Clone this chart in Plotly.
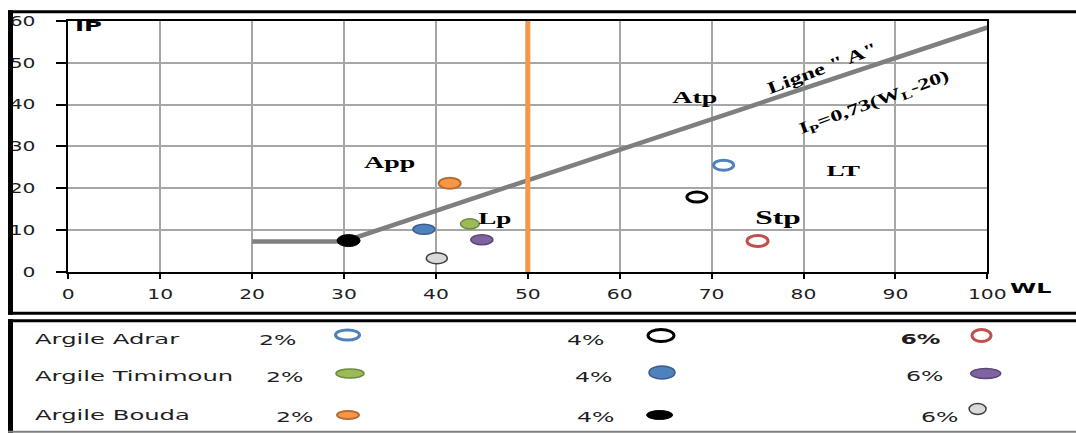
import json
import plotly.graph_objects as go

# ---------------------------------------------------------------- data
clays = ["Argile Adrar", "Argile Timimoun", "Argile Bouda"]
doses = ["2%", "4%", "6%"]

adrar_wl = [71.3, 68.4, 75.0]
adrar_ip = [25.5, 17.9, 7.4]
timimoun_wl = [43.7, 38.7, 45.0]
timimoun_ip = [11.5, 10.2, 7.7]
bouda_wl = [41.5, 30.5, 40.1]
bouda_ip = [21.2, 7.5, 3.3]

zone_labels = ["App", "Atp", "Lp", "LT", "Stp"]
zone_wl = [35.0, 68.2, 46.4, 84.4, 77.2]
zone_ip = [26.1, 41.5, 12.7, 24.2, 13.0]

x_ticks = [0, 10, 20, 30, 40, 50, 60, 70, 80, 90, 100]
y_ticks = [0, 10, 20, 30, 40, 50, 60]

# Casagrande "A" line: IP = 0.73 (WL - 20), with a flat lead-in below WL = 30
a_slope = 0.73
a_offset = 20
a_wl = [20, 30, 100]
wl_limit = 50

# ---------------------------------------------------------------- styles
W, H = 1076, 433


def px(x):
    return x / W


def py(y):
    return 1 - y / H


SANS = "DejaVu Sans"
SERIF = "Liberation Serif"
INK = "#1f1f1f"

series = {
    "Argile Adrar": (adrar_wl, adrar_ip),
    "Argile Timimoun": (timimoun_wl, timimoun_ip),
    "Argile Bouda": (bouda_wl, bouda_ip),
}

# fill, outline, outline width, marker width/height in px
marker_style = {
    ("Argile Adrar", "2%"): ("white", "#4F81BD", 3, 20, 10),
    ("Argile Adrar", "4%"): ("white", "#000000", 3, 20, 10),
    ("Argile Adrar", "6%"): ("white", "#C0504D", 3, 21, 11),
    ("Argile Timimoun", "2%"): ("#9BBB59", "#71893F", 1.5, 19, 10),
    ("Argile Timimoun", "4%"): ("#4F81BD", "#385D8A", 1.5, 22, 10),
    ("Argile Timimoun", "6%"): ("#8064A2", "#5C4776", 1.5, 22, 10),
    ("Argile Bouda", "2%"): ("#F79646", "#B66D31", 2, 22, 11),
    ("Argile Bouda", "4%"): ("#000000", "#000000", 1, 23, 12),
    ("Argile Bouda", "6%"): ("#D9D9D9", "#404040", 1.5, 21, 11),
}

# legend table layout (pixel positions)
legend_label_x = 33
legend_label_y = [339, 375.5, 415]
legend_pct_xy = [
    [(278, 340), (585.5, 340), (920, 339)],
    [(285, 376.5), (594, 376.5), (924.6, 376)],
    [(295, 416.5), (596, 416.5), (940, 416.5)],
]
legend_glyph_xy = [
    [(347.5, 335), (661, 335.5), (981.5, 335.5)],
    [(350, 373.5), (662, 372.5), (985.7, 373.5)],
    [(348, 415), (659.6, 415), (977.6, 409)],
]
legend_glyph_wh = [
    [(24, 10), (26, 12), (19, 12)],
    [(28, 9), (26, 13), (30, 10)],
    [(22, 8), (26, 9), (17, 11)],
]

fig = go.Figure()

# A line
a_ip = [a_slope * (max(w, 30) - a_offset) for w in a_wl]
fig.add_trace(go.Scatter(
    x=a_wl, y=a_ip, mode="lines",
    line=dict(color="#7F7F7F", width=4.5),
    hoverinfo="skip", showlegend=False,
))

# WL = 50 boundary
fig.add_trace(go.Scatter(
    x=[wl_limit, wl_limit], y=[y_ticks[0], y_ticks[-1]], mode="lines",
    line=dict(color="#F79646", width=5),
    hoverinfo="skip", showlegend=False,
))

shapes = []
# sample points as ellipses anchored to their data values
for clay in clays:
    wl, ip = series[clay]
    fig.add_trace(go.Scatter(
        x=wl, y=ip, mode="markers", name=clay, text=doses,
        marker=dict(size=12, opacity=0),
        hovertemplate="%{text}<br>WL=%{x}<br>IP=%{y}<extra>" + clay + "</extra>",
        showlegend=False,
    ))
    for dose, x, y in zip(doses, wl, ip):
        fill, edge, lw, mw, mh = marker_style[(clay, dose)]
        shapes.append(dict(
            type="circle", xref="x", yref="y",
            xsizemode="pixel", ysizemode="pixel",
            xanchor=x, yanchor=y,
            x0=-mw / 2, x1=mw / 2, y0=-mh / 2, y1=mh / 2,
            fillcolor=fill, line=dict(color=edge, width=lw), layer="above",
        ))

# legend table glyphs
for r, clay in enumerate(clays):
    for c, dose in enumerate(doses):
        fill, edge, lw, _, _ = marker_style[(clay, dose)]
        gx, gy = legend_glyph_xy[r][c]
        gw, gh = legend_glyph_wh[r][c]
        shapes.append(dict(
            type="circle", xref="paper", yref="paper",
            x0=px(gx - gw / 2), x1=px(gx + gw / 2),
            y0=py(gy + gh / 2), y1=py(gy - gh / 2),
            fillcolor=fill, line=dict(color=edge, width=lw), layer="above",
        ))

# frames around the chart and the legend table
frame = dict(color="black")
shapes += [
    dict(type="line", xref="paper", yref="paper", x0=px(8), x1=px(1090),
         y0=py(11.7), y1=py(11.7), line=dict(frame, width=3)),
    dict(type="line", xref="paper", yref="paper", x0=px(10.5), x1=px(10.5),
         y0=py(10.2), y1=py(314.8), line=dict(frame, width=5)),
    dict(type="line", xref="paper", yref="paper", x0=px(8), x1=px(1090),
         y0=py(313.3), y1=py(313.3), line=dict(frame, width=3)),
    dict(type="line", xref="paper", yref="paper", x0=px(8), x1=px(1090),
         y0=py(320.7), y1=py(320.7), line=dict(frame, width=3)),
    dict(type="line", xref="paper", yref="paper", x0=px(10.5), x1=px(10.5),
         y0=py(319.2), y1=py(433), line=dict(frame, width=5)),
    dict(type="line", xref="paper", yref="paper", x0=px(8), x1=px(1090),
         y0=py(431.8), y1=py(431.8), line=dict(color="#7F7F7F", width=2)),
]

annotations = []
# zone labels
zone_size = {"App": 16, "Atp": 16, "Lp": 16, "LT": 15, "Stp": 18}
for name, x, y in zip(zone_labels, zone_wl, zone_ip):
    annotations.append(dict(
        x=x, y=y, xref="x", yref="y", text="<b>%s</b>" % name, showarrow=False,
        font=dict(family=SERIF, size=zone_size[name], color="black"),
        xanchor="center", yanchor="middle",
    ))

annotations.append(dict(
    x=82.0, y=48.7, xref="x", yref="y", text='<b>Ligne " A"</b>', showarrow=False,
    textangle=-21, font=dict(family=SERIF, size=17, color="black"),
))
annotations.append(dict(
    x=87.7, y=40.6, xref="x", yref="y",
    text="<b>I<sub>P</sub>=0,73(W<sub>L</sub>-20)</b>", showarrow=False,
    textangle=-20, font=dict(family=SERIF, size=16, color="black"),
))

# axis titles
annotations.append(dict(
    x=px(73), y=py(25.5), xref="paper", yref="paper", text="<b>IP</b>",
    showarrow=False, xanchor="left", yanchor="middle", align="left",
    font=dict(family=SANS, size=14, color="black"),
))
annotations.append(dict(
    x=px(1008), y=py(288), xref="paper", yref="paper", text="<b>WL</b>",
    showarrow=False, xanchor="left", yanchor="middle", align="left",
    font=dict(family=SANS, size=14, color="black"),
))

# legend table text
for r, clay in enumerate(clays):
    annotations.append(dict(
        x=px(legend_label_x), y=py(legend_label_y[r]), xref="paper", yref="paper",
        text=clay, showarrow=False, xanchor="left", yanchor="middle", align="left",
        font=dict(family=SANS, size=13.5, color=INK),
    ))
    for c, dose in enumerate(doses):
        tx, ty = legend_pct_xy[r][c]
        label = "<b>%s</b>" % dose if (r == 0 and c == 2) else dose
        annotations.append(dict(
            x=px(tx), y=py(ty), xref="paper", yref="paper", text=label,
            showarrow=False, xanchor="center", yanchor="middle",
            font=dict(family=SANS, size=13.5, color=INK),
        ))

axis_common = dict(
    showgrid=True, gridcolor="#A6A6A6", gridwidth=2,
    showline=True, linecolor="black", linewidth=2, mirror=True,
    ticks="outside", tickcolor="black", tickwidth=1.5,
    zeroline=False, fixedrange=True, automargin=False,
    tickfont=dict(family=SANS, size=14, color=INK),
)

fig.update_layout(
    width=W, height=H, autosize=False,
    margin=dict(l=0, r=0, t=0, b=0, pad=0, autoexpand=False),
    paper_bgcolor="white", plot_bgcolor="white",
    showlegend=False,
    xaxis=dict(axis_common, range=[x_ticks[0], x_ticks[-1]], tickvals=x_ticks,
               ticklen=5, ticklabelstandoff=3,
               domain=[px(68.3), px(987.3)]),
    yaxis=dict(axis_common, range=[y_ticks[0], y_ticks[-1]], tickvals=y_ticks,
               ticklen=10, ticklabelstandoff=18,
               domain=[py(272), py(20.8)]),
    shapes=shapes,
    annotations=annotations,
)

# the labels are set in a horizontally widened face
widen = {
    "Argile Adrar": [1.8, "left center"],
    "Argile Timimoun": [1.8, "left center"],
    "Argile Bouda": [1.8, "left center"],
    "2%": [1.75, "center"], "4%": [1.75, "center"], "6%": [1.75, "center"],
    "App": [1.75, "center"], "Atp": [1.75, "center"], "Lp": [1.7, "center"],
    "LT": [1.8, "center"], "Stp": [1.75, "center"],
    'Ligne " A"': [1.45, "center"], "IP=0,73(WL-20)": [1.5, "center"],
    "IP": [1.75, "left center"], "WL": [1.7, "left center"],
}
post = """
var gd = document.getElementById('{plot_id}');
var table = %s;
function widen(el, k, origin) {
  var base = (el.getAttribute('transform') || '').replace(
    /translate\\(\\s*([-\\d.e]+)\\s*[, ]\\s*([-\\d.e]+)\\s*\\)/g, 'translate($1px,$2px)');
  el.style.transformBox = 'fill-box';
  el.style.transformOrigin = origin;
  el.style.transform = (base + ' scaleX(' + k + ')').trim();
}
gd.querySelectorAll('.xtick text').forEach(function (t) { widen(t, 1.45, 'center'); });
gd.querySelectorAll('.ytick text').forEach(function (t) { widen(t, 1.45, 'right center'); });
gd.querySelectorAll('text.annotation-text').forEach(function (t) {
  var k = t.textContent.replace(/\\u200b/g, '');
  if (Object.prototype.hasOwnProperty.call(table, k)) {
    widen(t, table[k][0], table[k][1]);
  }
});
""" % json.dumps(widen)

fig.write_html("out.html", post_script=post, config={"displayModeBar": False})
